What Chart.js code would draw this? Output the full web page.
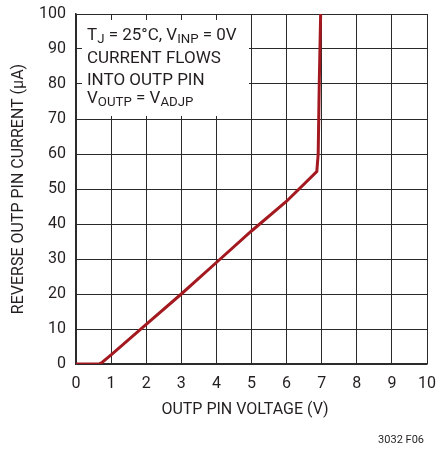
<!DOCTYPE html>
<html>
<head>
<meta charset="utf-8">
<script src="https://cdn.jsdelivr.net/npm/chart.js@4.4.1/dist/chart.umd.min.js"></script>
<style>
  html, body { margin: 0; padding: 0; background: #fff; }
  #wrap { width: 438px; height: 449px; position: relative; }
</style>
</head>
<body>
<div id="wrap"><canvas id="myChart" width="438" height="449"></canvas></div>
<script>
// curve: outp pin voltage (V) vs reverse current (uA)
var voltage = [0, 0.65, 0.75, 1, 2, 3, 4, 5, 6, 6.86, 6.9, 6.93, 6.97];
var current = [0, 0, 0.5, 2.6, 11.3, 20, 29, 38, 46.5, 55, 60, 80, 100];

var xTicks = [0, 1, 2, 3, 4, 5, 6, 7, 8, 9, 10];
var yTicks = [0, 10, 20, 30, 40, 50, 60, 70, 80, 90, 100];

var xTitle = 'OUTP PIN VOLTAGE (V)';
var yTitle = 'REVERSE OUTP PIN CURRENT (\u03BCA)';
var figNote = '3032 F06';

var FONT = 'Roboto, "Liberation Sans", sans-serif';
var GRID = '#2a2a2a';
var LINE = '#a3191f';
var TEXT = '#231f20';

var points = [];
for (var i = 0; i < voltage.length; i++) {
    points.push({ x: voltage[i], y: current[i] });
}

// draws a run of [text, isSub] pieces starting at x
function subText(ctx, parts, x, y, size) {
    for (var i = 0; i < parts.length; i++) {
        var sub = parts[i][1];
        ctx.font = (sub ? size * 0.78 : size) + 'px ' + FONT;
        ctx.fillText(parts[i][0], x, sub ? y + size * 0.2 : y);
        x += ctx.measureText(parts[i][0]).width;
    }
}

// drop the label overhang so the plot box sits where the picture has it
function noOverhang(s) {
    s.paddingTop = 0;
    s.paddingBottom = 0;
    s.paddingLeft = 0;
    s.paddingRight = 0;
}

var notePlugin = {
    id: 'notes',
    beforeDatasetsDraw: function(chart) {
        var ctx = chart.ctx;
        var a = chart.chartArea;
        ctx.save();
        // white box over the grid, upper left
        ctx.fillStyle = '#fff';
        ctx.fillRect(a.left + 6, a.top + 6, 167, 96);
        ctx.fillStyle = TEXT;
        ctx.textBaseline = 'alphabetic';
        ctx.textAlign = 'left';
        var x0 = a.left + 11;
        var size = 17;
        subText(ctx, [['T', 0], ['J', 1], [' = 25\u00B0C, V', 0], ['INP', 1], [' = 0V', 0]], x0, a.top + 25.5, size);
        subText(ctx, [['CURRENT FLOWS', 0]], x0, a.top + 49, size);
        subText(ctx, [['INTO OUTP PIN', 0]], x0, a.top + 71, size);
        subText(ctx, [['V', 0], ['OUTP', 1], [' = V', 0], ['ADJP', 1]], x0, a.top + 89, size);
        ctx.restore();
    },
    afterDraw: function(chart) {
        var ctx = chart.ctx;
        ctx.save();
        ctx.fillStyle = TEXT;
        ctx.textAlign = 'center';
        ctx.textBaseline = 'middle';
        ctx.font = '16px ' + FONT;
        ctx.fillText(xTitle, 245, 410);
        ctx.save();
        ctx.translate(19, 189);
        ctx.rotate(-Math.PI / 2);
        ctx.fillText(yTitle, 0, 0);
        ctx.restore();
        ctx.font = '11px ' + FONT;
        ctx.textAlign = 'right';
        ctx.fillText(figNote, 424, 440);
        ctx.restore();
    }
};

var ctx = document.getElementById('myChart');
var myChart = new Chart(ctx, {
    type: 'scatter',
    data: {
        datasets: [{
            data: points,
            showLine: true,
            borderColor: LINE,
            borderWidth: 3,
            pointRadius: 0,
            tension: 0,
            fill: false
        }]
    },
    options: {
        responsive: false,
        animation: false,
        events: [],
        layout: { padding: { top: 14, right: 11, left: 0, bottom: 0 } },
        plugins: { legend: { display: false }, tooltip: { enabled: false } },
        scales: {
            x: {
                type: 'linear',
                min: 0,
                max: 10,
                afterBuildTicks: function(s) { s.ticks = xTicks.map(function(v) { return { value: v }; }); },
                afterFit: function(s) { s.height = 85; noOverhang(s); },
                grid: { color: GRID, lineWidth: 1, drawTicks: false },
                border: { color: GRID, width: 1.5 },
                ticks: { color: TEXT, padding: 10, font: { family: FONT, size: 16 }, maxRotation: 0, autoSkip: false }
            },
            y: {
                type: 'linear',
                min: 0,
                max: 100,
                afterBuildTicks: function(s) { s.ticks = yTicks.map(function(v) { return { value: v }; }); },
                afterFit: function(s) { s.width = 76; noOverhang(s); },
                grid: { color: GRID, lineWidth: 1, drawTicks: false },
                border: { color: GRID, width: 1.5 },
                ticks: { color: TEXT, padding: 10, font: { family: FONT, size: 16 }, autoSkip: false }
            }
        }
    },
    plugins: [notePlugin]
});
</script>
</body>
</html>
